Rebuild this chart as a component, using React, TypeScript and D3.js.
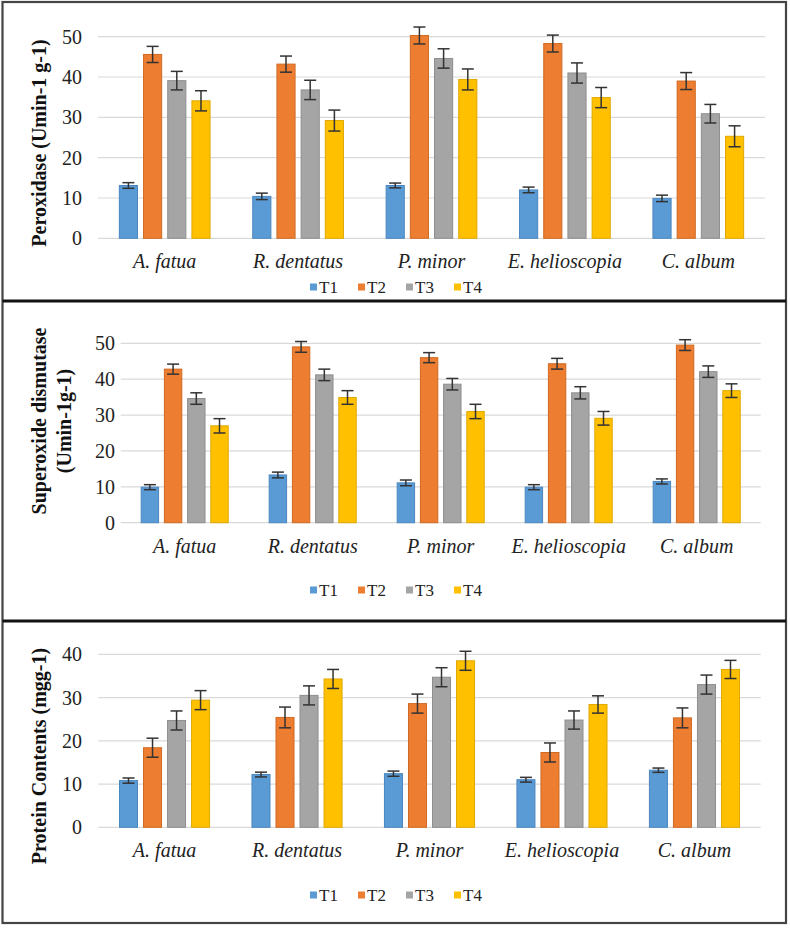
import React from "react";
import * as d3 from "d3";

const categories = ["A. fatua", "R. dentatus", "P. minor", "E. helioscopia", "C. album"];
const seriesNames = ["T1", "T2", "T3", "T4"];
const seriesColors = ["#5B9BD5", "#ED7D31", "#A5A5A5", "#FFC000"];
const seriesStroke = ["#4A86BF", "#D06A24", "#8E8E8E", "#E0A800"];

// Peroxidase (Umin-1 g-1): rows = categories, cols = T1..T4
const peroxidaseValues = [
  [13.1, 45.6, 39.1, 34.1],
  [10.4, 43.2, 36.8, 29.2],
  [13.1, 50.3, 44.6, 39.4],
  [12.0, 48.3, 41.0, 34.9],
  [9.9, 39.0, 30.9, 25.3],
];
const peroxidaseErrors = [
  [0.7, 2.0, 2.3, 2.5],
  [0.8, 2.0, 2.4, 2.6],
  [0.6, 2.1, 2.4, 2.6],
  [0.7, 2.1, 2.5, 2.5],
  [0.8, 2.1, 2.3, 2.6],
];
const peroxidaseTicks = [0, 10, 20, 30, 40, 50];

// Superoxide dismutase (Umin-1g-1)
const sodValues = [
  [9.9, 42.8, 34.6, 27.0],
  [13.3, 49.0, 41.2, 34.9],
  [11.1, 46.0, 38.6, 31.0],
  [9.9, 44.3, 36.2, 29.1],
  [11.5, 49.5, 42.1, 36.8],
];
const sodErrors = [
  [0.7, 1.4, 1.6, 2.0],
  [0.8, 1.5, 1.6, 1.9],
  [0.8, 1.4, 1.6, 2.0],
  [0.7, 1.5, 1.7, 1.9],
  [0.7, 1.5, 1.6, 1.9],
];
const sodTicks = [0, 10, 20, 30, 40, 50];

// Protein Contents (mgg-1)
const proteinValues = [
  [10.8, 18.4, 24.7, 29.4],
  [12.2, 25.4, 30.5, 34.3],
  [12.4, 28.6, 34.7, 38.5],
  [11.0, 17.3, 24.8, 28.4],
  [13.2, 25.3, 33.0, 36.5],
];
const proteinErrors = [
  [0.6, 2.2, 2.2, 2.2],
  [0.55, 2.4, 2.2, 2.2],
  [0.6, 2.2, 2.2, 2.2],
  [0.55, 2.2, 2.1, 2.0],
  [0.5, 2.3, 2.2, 2.1],
];
const proteinTicks = [0, 10, 20, 30, 40];

type PanelProps = {
  values: number[][];
  errors: number[][];
  ticks: number[];
  titleLines: string[];
  titleX: number[];
  titleY: number;
  x0: number;
  x1: number;
  y0: number;
  yTop: number;
  tickRight: number;
  catY: number;
  legendY: number;
};

const FONT = "'Liberation Serif', 'Times New Roman', serif";

function Panel(p: PanelProps) {
  const maxTick = p.ticks[p.ticks.length - 1];
  const y = d3.scaleLinear().domain([0, maxTick]).range([p.y0, p.yTop]);
  const xCat = d3.scaleBand<string>().domain(categories).range([p.x0, p.x1]).padding(0);
  const groupW = xCat.bandwidth() * 0.68;
  const xSer = d3.scaleBand<string>().domain(seriesNames).range([0, groupW]).paddingInner(0.25).paddingOuter(0);
  const bw = xSer.bandwidth();
  const cap = 6;
  const legendStart = 310;
  const legendStep = 48;
  return (
    <g>
      {p.ticks.map((t) => (
        <g key={"g" + t}>
          <line x1={p.x0} x2={p.x1} y1={y(t)} y2={y(t)} stroke="#D9D9D9" strokeWidth={1.2} />
          <text x={p.tickRight} y={y(t)} dy="0.35em" textAnchor="end" fontSize={20} fontFamily={FONT} fill="#222">
            {t}
          </text>
        </g>
      ))}
      {categories.map((c, ci) => {
        const gx = (xCat(c) as number) + (xCat.bandwidth() - groupW) / 2;
        return (
          <g key={c}>
            {seriesNames.map((s, si) => {
              const v = p.values[ci][si];
              const e = p.errors[ci][si];
              const bx = gx + (xSer(s) as number);
              const cx = bx + bw / 2;
              return (
                <g key={s}>
                  <rect x={bx} y={y(v)} width={bw} height={p.y0 - y(v)} fill={seriesColors[si]} stroke={seriesStroke[si]} strokeWidth={1} />
                  <line x1={cx} x2={cx} y1={y(v + e)} y2={y(v - e)} stroke="#333" strokeWidth={1.5} />
                  <line x1={cx - cap} x2={cx + cap} y1={y(v + e)} y2={y(v + e)} stroke="#333" strokeWidth={1.5} />
                  <line x1={cx - cap} x2={cx + cap} y1={y(v - e)} y2={y(v - e)} stroke="#333" strokeWidth={1.5} />
                </g>
              );
            })}
            <text x={(xCat(c) as number) + xCat.bandwidth() / 2} y={p.catY} textAnchor="middle" fontSize={20} fontStyle="italic" fontFamily={FONT} fill="#222">
              {c}
            </text>
          </g>
        );
      })}
      {p.titleLines.map((line, li) => (
        <text
          key={line}
          transform={`translate(${p.titleX[li]},${p.titleY}) rotate(-90)`}
          dy="0.35em"
          textAnchor="middle"
          fontSize={20}
          fontWeight="bold"
          fontFamily={FONT}
          fill="#111"
        >
          {line}
        </text>
      ))}
      {seriesNames.map((s, si) => (
        <g key={"lg" + s}>
          <rect x={legendStart + si * legendStep} y={p.legendY - 3.5} width={7} height={7} fill={seriesColors[si]} />
          <text x={legendStart + si * legendStep + 9} y={p.legendY} dy="0.35em" fontSize={17} fontFamily={FONT} fill="#222">
            {s}
          </text>
        </g>
      ))}
    </g>
  );
}

export default function App() {
  return (
    <svg width={790} height={931} style={{ position: "absolute", left: 0, top: 0, background: "#fff" }}>
      <rect x={0} y={0} width={790} height={931} fill="#fff" />
      <Panel
        values={peroxidaseValues}
        errors={peroxidaseErrors}
        ticks={peroxidaseTicks}
        titleLines={["Peroxidase (Umin-1 g-1)"]}
        titleX={[39]}
        titleY={143}
        x0={98}
        x1={765}
        y0={238.3}
        yTop={36.7}
        tickRight={82}
        catY={268}
        legendY={287}
      />
      <Panel
        values={sodValues}
        errors={sodErrors}
        ticks={sodTicks}
        titleLines={["Superoxide dismutase", "(Umin-1g-1)"]}
        titleX={[39, 64]}
        titleY={421}
        x0={120.7}
        x1={760.7}
        y0={522.7}
        yTop={343.3}
        tickRight={115}
        catY={553}
        legendY={590}
      />
      <Panel
        values={proteinValues}
        errors={proteinErrors}
        ticks={proteinTicks}
        titleLines={["Protein Contents (mgg-1)"]}
        titleX={[39]}
        titleY={756}
        x0={98.3}
        x1={760.7}
        y0={827.3}
        yTop={654.3}
        tickRight={82}
        catY={857}
        legendY={895}
      />
      {/* borders */}
      <rect x={2.5} y={2} width={783.5} height={921} fill="none" stroke="#444" strokeWidth={2.2} />
      <line x1={2.5} x2={786} y1={301} y2={301} stroke="#111" strokeWidth={3} />
      <line x1={2.5} x2={786} y1={621} y2={621} stroke="#111" strokeWidth={3} />
    </svg>
  );
}
